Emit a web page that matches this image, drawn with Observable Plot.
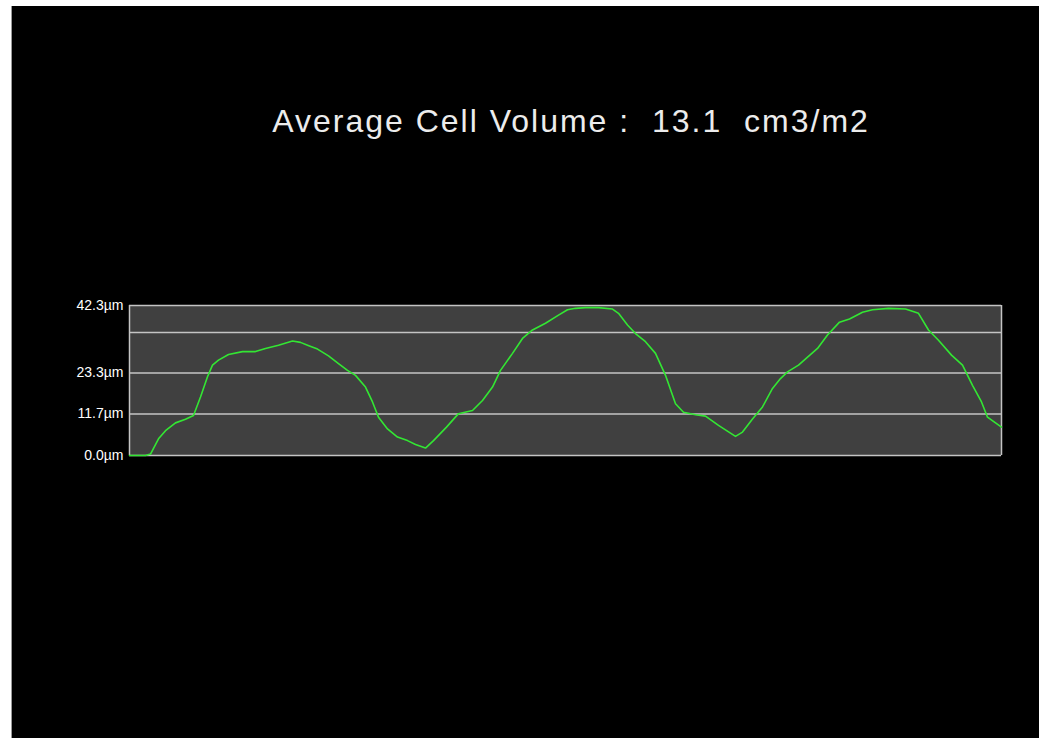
<!DOCTYPE html>
<html>
<head>
<meta charset="utf-8">
<script src="https://cdn.jsdelivr.net/npm/d3@7"></script>
<script src="https://cdn.jsdelivr.net/npm/@observablehq/plot@0.6"></script>
<style>
  html, body { margin: 0; padding: 0; background: #ffffff; width: 1039px; height: 738px; overflow: hidden; }
  #panel { position: absolute; left: 11px; top: 6px; width: 1028px; height: 732px; background: #000; border-left: 1px solid #9a9a9a; box-sizing: border-box; }
  #title { position: absolute; left: 0; top: 103px; width: 1142px; text-align: center; white-space: pre; color: #ececec; font-family: "Liberation Sans", Arial, sans-serif; font-size: 32px; letter-spacing: 2px; line-height: 37px; }
  #chart { position: absolute; left: 0; top: 0; }
  #chart svg { background: transparent; }
</style>
</head>
<body>
<div id="panel"></div>
<div id="title">Average Cell Volume :  13.1  cm3/m2</div>
<div id="chart"></div>
<script>
// Position along the profile (sample index) and measured height (µm)
const positions = [0, 16, 21, 29, 36, 46, 56, 64, 71, 78, 83, 89, 99, 113, 126, 136, 149, 163, 171, 178, 188, 199, 209, 218,
  226, 236, 243, 249, 258, 268, 278, 286, 296, 304, 317, 329, 343, 353, 363, 371, 383, 393, 403, 416, 429, 438,
  446, 456, 469, 483, 489, 498, 506, 516, 526, 536, 546, 554, 566, 576, 589, 606, 613, 623, 633, 643, 651, 658,
  669, 688, 698, 710, 720, 733, 743, 759, 776, 789, 799, 809, 822, 833, 843, 852, 858, 866, 872];
const heights = [0, 0, 0.4, 4.7, 7.0, 9.2, 10.2, 11.3, 16.5, 22.2, 25.5, 26.9, 28.5, 29.3, 29.3, 30.2, 31.1, 32.3, 31.9, 31.1, 30.0, 28.1, 25.9, 24.0,
  22.6, 19.3, 15.1, 10.8, 7.5, 5.2, 4.2, 3.1, 2.1, 4.2, 8.0, 11.8, 12.7, 15.5, 19.3, 24.0, 28.8, 33.0, 35.4, 37.3, 39.6, 41.1,
  41.5, 41.7, 41.7, 41.3, 40.1, 36.8, 34.4, 32.1, 28.8, 22.6, 14.6, 12.2, 11.5, 11.1, 8.5, 5.4, 6.6, 10.3, 13.7, 18.9, 21.7, 23.6,
  25.5, 30.2, 34.0, 37.6, 38.5, 40.4, 41.1, 41.5, 41.3, 40.1, 35.4, 32.5, 28.3, 25.5, 19.8, 15.1, 10.8, 9.2, 8.0];
const tickValues = [0, 11.7, 23.3, 42.3];
const tickLabels = ["0.0µm", "11.7µm", "23.3µm", "42.3µm"];
const gridValues = [0, 11.7, 23.3, 34.7, 42.3];

const data = positions.map((p, i) => ({pos: p, h: heights[i]}));

const chart = Plot.plot({
  width: 1039,
  height: 738,
  marginLeft: 129,
  marginRight: 38,
  marginTop: 305,
  marginBottom: 283,
  style: {background: "transparent", fontFamily: "'Liberation Sans', Arial, sans-serif", fontSize: "14px", color: "#ffffff"},
  x: {domain: [0, 872], axis: null},
  y: {domain: [0, 42.3], ticks: tickValues, tickFormat: (d) => tickLabels[tickValues.indexOf(d)], tickSize: 0, tickPadding: 6, label: null},
  marks: [
    Plot.frame({fill: "#404040"}),
    Plot.ruleY(gridValues, {stroke: "#c4c4c4", strokeWidth: 1.5}),
    Plot.ruleX([0, 872], {stroke: "#c4c4c4", strokeWidth: 1.5}),
    Plot.line(data, {x: "pos", y: "h", stroke: "#33e633", strokeWidth: 1.6, curve: "linear"}),
    Plot.axisY({ticks: tickValues, tickFormat: (d) => tickLabels[tickValues.indexOf(d)], tickSize: 0, tickPadding: 6, label: null, fill: "#ffffff"})
  ]
});
document.getElementById("chart").appendChild(chart);
</script>
</body>
</html>
